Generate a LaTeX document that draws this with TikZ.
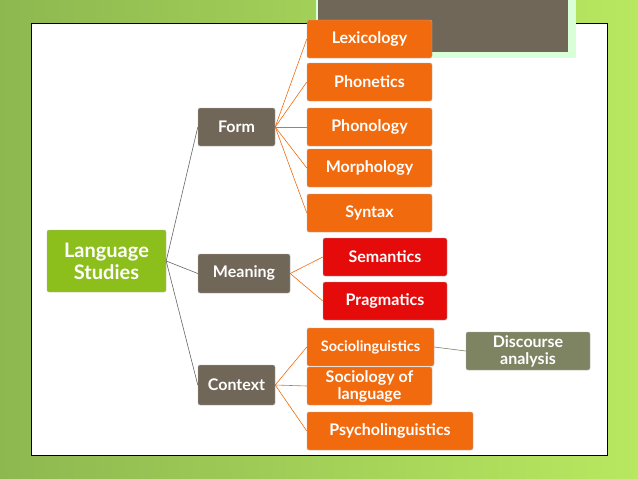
\documentclass[tikz,border=0pt]{standalone}
\usepackage{fontspec}
\setmainfont{Lato}
\definecolor{bgl}{HTML}{8DB850}
\definecolor{bgr}{HTML}{B8E860}
\definecolor{gbox}{HTML}{716758}
\definecolor{lgr}{HTML}{8CBE1C}
\definecolor{orn}{HTML}{F26A0E}
\definecolor{rdd}{HTML}{E50B0B}
\definecolor{olv}{HTML}{7E8462}
\begin{document}
\begin{tikzpicture}[x=1pt,y=-1pt,
  box/.style={draw=white!70!black,line width=0.4pt,rounded corners=2pt,text=white,font=\bfseries\fontsize{16}{16}\selectfont,align=center,inner sep=1pt},
  og/.style={box,fill=orn},
  rd/.style={box,fill=rdd},
  gy/.style={box,fill=gbox},
  gr/.style={box,fill=lgr},
  ol/.style={box,fill=olv},
  ln/.style={draw=gray!80!black,line width=0.6pt},
  lo/.style={draw=orn,line width=0.6pt}]
\useasboundingbox (0,0) rectangle (638,479);
\shade[left color=bgl, right color=bgr] (0,0) rectangle (638,479);
\fill[green!15!white] (316,0) rectangle (576,58);
\fill[white] (31,23) rectangle (607,455);
\draw[black,line width=0.6pt] (31,23) rectangle (607,455);
\fill[green!15!white] (430,23) rectangle (576,58);
\fill[gbox] (318,0) rectangle (568,52);
\node[og,minimum width=125,minimum height=38] (lex) at (369.5,39) {Lexicology};
\node[og,minimum width=125,minimum height=38] (phe) at (369.5,82) {Phonetics};
\node[og,minimum width=125,minimum height=38] (pho) at (369.5,127) {Phonology};
\node[og,minimum width=125,minimum height=38] (mor) at (369.5,168) {Morphology};
\node[og,minimum width=125,minimum height=38] (syn) at (369.5,213) {Syntax};
\node[rd,minimum width=124,minimum height=38] (sem) at (385,257) {Semantics};
\node[rd,minimum width=124,minimum height=38] (pra) at (385,301) {Pragmatics};
\node[og,minimum width=127,minimum height=38,font=\bfseries\fontsize{14.5}{15}\selectfont] (soc) at (370.5,347) {Sociolinguistics};
\node[og,minimum width=125,minimum height=38,font=\bfseries\fontsize{16}{17}\selectfont] (sol) at (369.5,386) {Sociology of\\language};
\node[og,minimum width=166,minimum height=38] (psy) at (390,431) {Psycholinguistics};
\node[ol,minimum width=124,minimum height=38,font=\bfseries\fontsize{16}{17}\selectfont] (dis) at (528,351) {Discourse\\analysis};
\node[gy,minimum width=77,minimum height=38] (form) at (236.5,127) {Form};
\node[gy,minimum width=92,minimum height=39] (mea) at (244,273.5) {Meaning};
\node[gy,minimum width=77,minimum height=40] (con) at (236.5,385) {Context};
\node[gr,minimum width=119,minimum height=62,font=\bfseries\fontsize{20}{22}\selectfont] (ls) at (106.5,261) {Language\\Studies};
\foreach \t in {form,mea,con} \draw[ln] (ls.east) -- (\t.west);
\foreach \t in {lex,phe,pho,mor,syn} \draw[lo] (form.east) -- (\t.west);
\foreach \t in {sem,pra} \draw[lo] (mea.east) -- (\t.west);
\foreach \t in {soc,sol,psy} \draw[lo] (con.east) -- (\t.west);
\draw[ln,draw=olv] (soc.east) -- (dis.west);
\end{tikzpicture}
\end{document}
